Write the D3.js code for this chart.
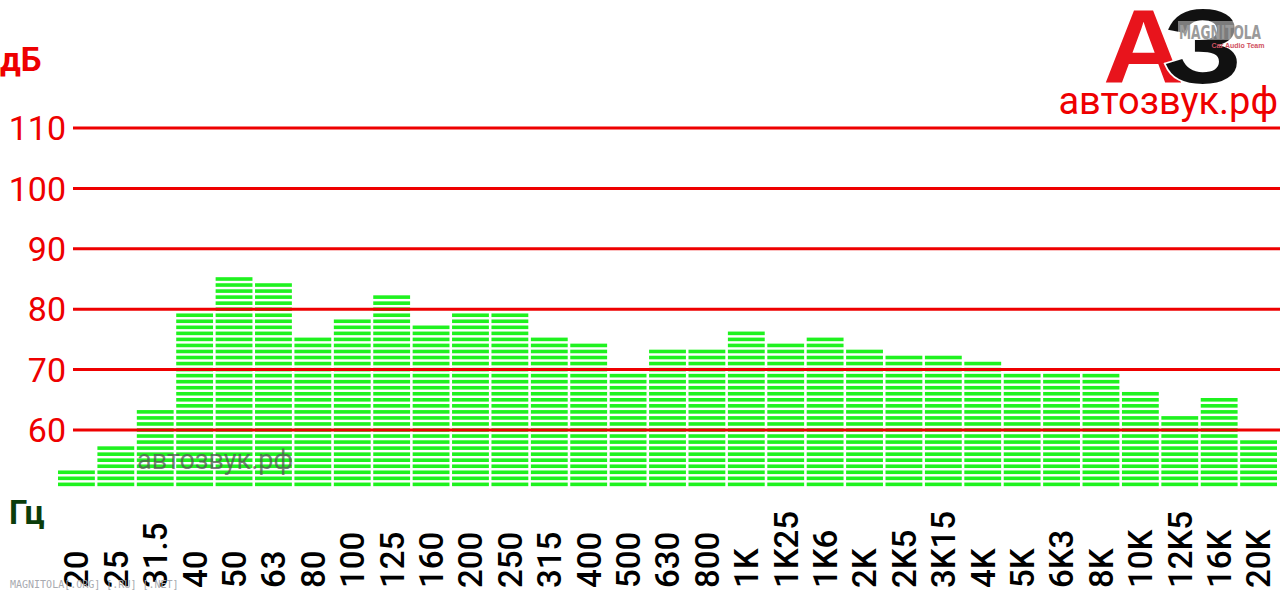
<!DOCTYPE html>
<html>
<head>
<meta charset="utf-8">
<script src="https://cdn.jsdelivr.net/npm/d3@7"></script>
<style>
  html, body { margin: 0; padding: 0; background: #fff; }
  svg { display: block; }
</style>
</head>
<body>
<svg id="chart" width="1280" height="593"></svg>
<script>
// ---- data ----
const categories = ["20","25","31.5","40","50","63","80","100","125","160","200","250","315","400","500","630","800","1K","1K25","1K6","2K","2K5","3K15","4K","5K","6K3","8K","10K","12K5","16K","20K"];
const levels = [53,57,63,79,85,84,75,78,82,77,79,79,75,74,69,73,73,76,74,75,73,72,72,71,69,69,69,66,62,65,58];
const yTicks = [60,70,80,90,100,110];
const baseLevel = 50;
const yUnit = "дБ";
const xUnit = "Гц";

// ---- layout ----
const svg = d3.select("#chart");
const y = d3.scaleLinear().domain([60, 110]).range([430, 128]);
const x = d3.scaleBand().domain(categories).range([58, 1277]).paddingInner(0.065).paddingOuter(0);

const green = "#1ff21f";
const red = "#ee0000";

// bars as stacked 1 dB segments
const bars = svg.append("g");
categories.forEach((c, i) => {
  const segs = d3.range(baseLevel + 1, levels[i] + 1);
  bars.selectAll(null).data(segs).enter().append("rect")
    .attr("x", x(c))
    .attr("width", x.bandwidth())
    .attr("y", d => y(d) - 1.8)
    .attr("height", 3.6)
    .attr("fill", green);
});

// gridlines
svg.append("g").selectAll("line").data(yTicks).enter().append("line")
  .attr("x1", 73).attr("x2", 1280)
  .attr("y1", d => y(d)).attr("y2", d => y(d))
  .attr("stroke", red).attr("stroke-width", 3);

// y tick labels
svg.append("g").selectAll("text").data(yTicks).enter().append("text")
  .attr("x", 66).attr("y", d => y(d)).attr("dy", "0.36em")
  .attr("text-anchor", "end")
  .attr("font-family", "Roboto, sans-serif").attr("font-size", 34)
  .attr("fill", red)
  .text(d => d);

// x labels (rotated)
svg.append("g").selectAll("text").data(categories).enter().append("text")
  .attr("transform", d => `translate(${x(d) + x.bandwidth() / 2},588) rotate(-90)`)
  .attr("dy", "0.36em")
  .attr("text-anchor", "start")
  .attr("font-family", "Roboto, sans-serif").attr("font-weight", 500).attr("font-size", 33)
  .attr("fill", "#000")
  .text(d => d);

// units
svg.append("text").attr("x", 0).attr("y", 71)
  .attr("font-family", "Roboto, sans-serif").attr("font-weight", 700).attr("font-size", 33)
  .attr("fill", red).text(yUnit);
svg.append("text").attr("x", 9).attr("y", 524)
  .attr("font-family", "Roboto, sans-serif").attr("font-weight", 700).attr("font-size", 33)
  .attr("fill", "#0b3d0b").text(xUnit);

// watermark in chart
svg.append("text").attr("x", 137).attr("y", 469)
  .attr("font-family", "Roboto, sans-serif").attr("font-size", 27)
  .attr("fill", "#555").attr("fill-opacity", 0.75).text("автозвук.рф");

// site name top right
svg.append("text").attr("x", 1278).attr("y", 114)
  .attr("text-anchor", "end")
  .attr("font-family", "Roboto, sans-serif").attr("font-size", 38)
  .attr("fill", red).text("автозвук.рф");

// logo
const logo = svg.append("g");
logo.append("text").attr("transform", "translate(1103,82) scale(1.08,1)")
  .attr("font-family", "Liberation Sans, Arial, sans-serif").attr("font-weight", 700).attr("font-size", 104)
  .attr("fill", "#e8141c").text("А");
logo.append("text").attr("transform", "translate(1163,83) scale(1.2,1)")
  .attr("font-family", "Liberation Sans, Arial, sans-serif").attr("font-weight", 700).attr("font-size", 106)
  .attr("fill", "#111").attr("stroke", "#fff").attr("stroke-width", 3).attr("paint-order", "stroke")
  .text("З");
logo.append("rect").attr("x", 1178).attr("y", 21).attr("width", 84).attr("height", 19)
  .attr("fill", "#fff").attr("fill-opacity", 0.45);
logo.append("text").attr("x", 1220).attr("y", 39)
  .attr("text-anchor", "middle")
  .attr("font-family", "DejaVu Sans Condensed, sans-serif").attr("font-weight", 700).attr("font-size", 19)
  .attr("textLength", 82).attr("lengthAdjust", "spacingAndGlyphs")
  .attr("fill", "#9a9a9a").text("MAGNITOLA");
logo.append("text").attr("x", 1238).attr("y", 48)
  .attr("text-anchor", "middle")
  .attr("font-family", "Liberation Sans, Arial, sans-serif").attr("font-weight", 700).attr("font-size", 7)
  .attr("fill", "#d05060").text("Car Audio Team");

// footer
svg.append("text").attr("x", 10).attr("y", 588)
  .attr("font-family", "DejaVu Sans Mono, monospace").attr("font-size", 10)
  .attr("fill", "#a8aab0").text("MAGNITOLA[.ORG] [.RU] [.NET]");
</script>
</body>
</html>
